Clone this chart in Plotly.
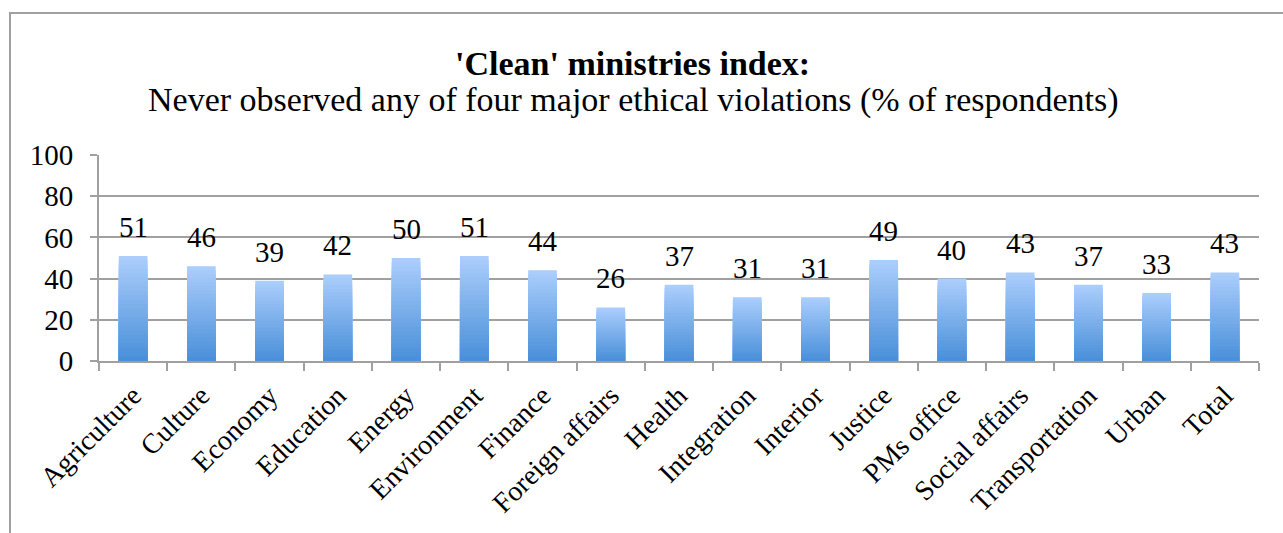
import plotly.graph_objects as go

# Data
ministries = ['Agriculture', 'Culture', 'Economy', 'Education', 'Energy', 'Environment',
              'Finance', 'Foreign affairs', 'Health', 'Integration', 'Interior', 'Justice',
              'PMs office', 'Social affairs', 'Transportation', 'Urban', 'Total']
clean_pct = [51, 46, 39, 42, 50, 51, 44, 26, 37, 31, 31, 49, 40, 43, 37, 33, 43]
y_ticks = [0, 20, 40, 60, 80, 100]

FONT = 'Liberation Serif'
W, H = 1283, 533
L, R, T, B = 99, 24, 155, 172
plot_w = W - L - R
plot_h = H - T - B


def px_x(px):
    return (px - L) / plot_w


def px_y(py):
    return (H - B - py) / plot_h


# light blue at the top, darker at the bottom
top_rgb = (170, 205, 252)
bot_rgb = (74, 144, 217)
steps = 24

fig = go.Figure()
for k in range(steps):
    t = k / (steps - 1)
    c = tuple(int(round(top_rgb[i] + (bot_rgb[i] - top_rgb[i]) * t)) for i in range(3))
    frac = (steps - k) / steps
    fig.add_trace(go.Bar(
        x=ministries,
        y=[v * frac for v in clean_pct],
        marker=dict(color='rgb(%d,%d,%d)' % c, line=dict(width=0)),
        hoverinfo='skip',
        showlegend=False,
    ))

# value labels above the bars
for name, v in zip(ministries, clean_pct):
    fig.add_annotation(x=name, y=v, text=str(v), showarrow=False,
                       yanchor='middle', yshift=29,
                       font=dict(family=FONT, size=29, color='black'))

fig.add_annotation(x=px_x(632), y=px_y(63), xref='paper', yref='paper',
                   xanchor='center', yanchor='middle',
                   text="<b>'Clean' ministries index:</b>", showarrow=False,
                   font=dict(family=FONT, size=34, color='black'))
fig.add_annotation(x=px_x(633), y=px_y(100), xref='paper', yref='paper',
                   xanchor='center', yanchor='middle',
                   text='Never observed any of four major ethical violations (% of respondents)',
                   showarrow=False, font=dict(family=FONT, size=34, color='black'))

# outer chart border
fig.add_shape(type='rect', xref='paper', yref='paper',
              x0=px_x(10), x1=px_x(1300), y0=px_y(560), y1=px_y(13),
              line=dict(color='#a0a0a0', width=2), layer='below')

fig.update_layout(
    width=W, height=H,
    margin=dict(l=L, r=R, t=T, b=B),
    barmode='overlay', bargap=0.58,
    plot_bgcolor='white', paper_bgcolor='white',
    font=dict(family=FONT, size=22, color='black'),
    xaxis=dict(type='category', range=[-0.5, len(ministries) - 0.5], tickangle=-45,
               showline=True, linecolor='#a0a0a0', linewidth=2,
               ticks='outside', tickson='boundaries', ticklen=8, tickcolor='#a0a0a0',
               tickwidth=2, showgrid=False, automargin=False, ticklabelstandoff=5,
               tickfont=dict(family=FONT, size=28)),
    yaxis=dict(range=[0, 100], tickvals=y_ticks, showline=True, linecolor='#a0a0a0',
               linewidth=2, ticks='outside', ticklen=7, tickcolor='#a0a0a0', tickwidth=2,
               showgrid=True, gridcolor='#a0a0a0', gridwidth=2, zeroline=False,
               automargin=False, ticklabelstandoff=11,
               tickfont=dict(family=FONT, size=29)),
)

# page body has a default 8px margin; remove it so the figure sits at the corner
fig.write_html('out.html', config={'displayModeBar': False},
               post_script="document.body.style.margin='0';")
